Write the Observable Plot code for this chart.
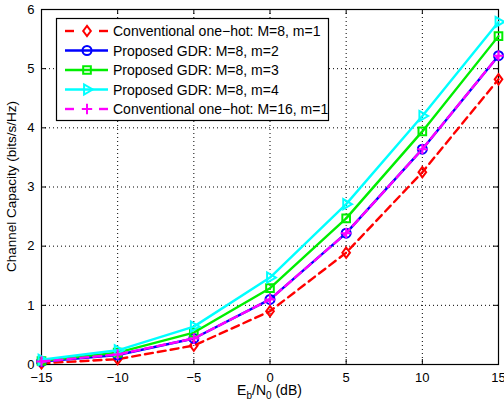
<!DOCTYPE html>
<html><head><meta charset="utf-8">
<script src="https://cdn.jsdelivr.net/npm/d3@7"></script>
<script src="https://cdn.jsdelivr.net/npm/@observablehq/plot@0.6"></script>
<style>
body{margin:0;background:#fff}
svg{font-family:"Liberation Sans",Arial,Helvetica,sans-serif}
</style>
</head><body><div id="chart"></div>
<script>
// ---- data ----
const snr = [-15, -10, -5, 0, 5, 10, 15];
const seriesNames = [
  "Conventional one\u2212hot: M=8, m=1",
  "Proposed GDR: M=8, m=2",
  "Proposed GDR: M=8, m=3",
  "Proposed GDR: M=8, m=4",
  "Conventional one\u2212hot: M=16, m=1"
];
const capOneHot8  = [0.02, 0.09, 0.32, 0.90, 1.89, 3.25, 4.82];
const capGDR2     = [0.05, 0.16, 0.44, 1.10, 2.22, 3.64, 5.22];
const capGDR3     = [0.06, 0.20, 0.54, 1.29, 2.47, 3.94, 5.55];
const capGDR4     = [0.08, 0.24, 0.64, 1.47, 2.71, 4.20, 5.79];
const capOneHot16 = [0.05, 0.17, 0.44, 1.10, 2.22, 3.64, 5.22];
const xTicks = [-15, -10, -5, 0, 5, 10, 15];
const yTicks = [0, 1, 2, 3, 4, 5, 6];

// ---- styles ----
const triRight = {draw(ctx, size) {
  const R = Math.sqrt(size / Math.PI) * 1.3;
  ctx.moveTo(R, 0);
  ctx.lineTo(-R / 2, R * Math.sqrt(3) / 2);
  ctx.lineTo(-R / 2, -R * Math.sqrt(3) / 2);
  ctx.closePath();
}};
const diamondSym = {draw(ctx, size) {
  const r = Math.sqrt(size / Math.PI);
  const h = r * 1.15, w = r * 0.85;
  ctx.moveTo(0, -h); ctx.lineTo(w, 0); ctx.lineTo(0, h); ctx.lineTo(-w, 0); ctx.closePath();
}};
const squareSym = {draw(ctx, size) {
  const s = Math.sqrt(size / Math.PI) * 0.85;
  ctx.rect(-s, -s, 2 * s, 2 * s);
}};
const circleSym = {draw(ctx, size) {
  const r = Math.sqrt(size / Math.PI);
  ctx.moveTo(r, 0); ctx.arc(0, 0, r, 0, 2 * Math.PI);
}};
const plusSym = {draw(ctx, size) {
  const r = Math.sqrt(size / Math.PI) * 1.15;
  ctx.moveTo(-r, 0); ctx.lineTo(r, 0); ctx.moveTo(0, -r); ctx.lineTo(0, r);
}};

const seriesValues = [capOneHot8, capGDR2, capGDR3, capGDR4, capOneHot16];
const styles = [
  {color: "#ff0000", dash: "8,5", symbol: diamondSym},
  {color: "#0000ff", dash: null, symbol: circleSym},
  {color: "#00ee00", dash: null, symbol: squareSym},
  {color: "#00ffff", dash: null, symbol: triRight},
  {color: "#ff00ff", dash: "8,5", symbol: plusSym}
];
const series = seriesNames.map((name, i) => ({
  name, style: styles[i],
  rows: snr.map((x, j) => ({x, y: seriesValues[i][j], name}))
}));

const W = 504, H = 405, mL = 41, mR = 6, mT = 9, mB = 41;
const plotH = H - mT - mB;
const fmt = d => d < 0 ? "\u2212" + (-d) : String(d);

const marks = [
  Plot.ruleX(xTicks.slice(1, -1), {stroke: "#000", strokeDasharray: "1,3", strokeWidth: 1}),
  Plot.ruleY(yTicks.slice(1, -1), {stroke: "#000", strokeDasharray: "1,3", strokeWidth: 1}),
  // inward ticks
  Plot.ruleX(xTicks, {stroke: "#000", insetTop: plotH - 5}),
  Plot.ruleX(xTicks, {stroke: "#000", insetBottom: plotH - 5}),
  Plot.ruleY(yTicks, {stroke: "#000", insetRight: (W - mL - mR) - 5}),
  Plot.ruleY(yTicks, {stroke: "#000", insetLeft: (W - mL - mR) - 5}),
  Plot.frame({stroke: "#000", strokeWidth: 1.2})
];
for (const s of series) {
  marks.push(Plot.line(s.rows, {x: "x", y: "y", stroke: s.style.color, strokeWidth: 2.4,
    strokeDasharray: s.style.dash || undefined}));
  marks.push(Plot.dot(s.rows, {x: "x", y: "y", symbol: s.style.symbol, r: 4.5,
    stroke: s.style.color, fill: "none", strokeWidth: 2}));
}

const plot = Plot.plot({
  width: W, height: H,
  marginLeft: mL, marginRight: mR, marginTop: mT, marginBottom: mB,
  style: {fontSize: "13px", fontFamily: '"Liberation Sans",Arial,sans-serif', background: "#fff", overflow: "visible"},
  x: {domain: [-15, 15], ticks: xTicks, tickSize: 0, tickPadding: 8, tickFormat: fmt, label: null},
  y: {domain: [0, 6], ticks: yTicks, tickSize: 0, tickPadding: 7, tickFormat: fmt, label: null},
  marks
});
document.getElementById("chart").append(plot);

// ---- axis labels & legend ----
const svg = d3.select(plot);
const xs = plot.scale("x"), ys = plot.scale("y");
const xMid = (xs.apply(-15) + xs.apply(15)) / 2;
const yMid = (ys.apply(0) + ys.apply(6)) / 2;

const xl = svg.append("text").attr("x", xMid).attr("y", H - 10)
  .attr("text-anchor", "middle").attr("font-size", 14).attr("fill", "#000");
xl.append("tspan").text("E");
xl.append("tspan").attr("font-size", 10).attr("dy", 4).text("b");
xl.append("tspan").attr("dy", -4).text("/N");
xl.append("tspan").attr("font-size", 10).attr("dy", 4).text("0");
xl.append("tspan").attr("dy", -4).text(" (dB)");

svg.append("text").attr("transform", `translate(16,${yMid}) rotate(-90)`)
  .attr("text-anchor", "middle").attr("font-size", 13.5).attr("fill", "#000")
  .text("Channel Capacity (bits/s/Hz)");

const lg = svg.append("g").attr("text-anchor", "start");
const bx = 56.5, by = 18.5, bw = 272, bh = 102;
lg.append("rect").attr("x", bx).attr("y", by).attr("width", bw).attr("height", bh)
  .attr("fill", "#fff").attr("stroke", "#000").attr("stroke-width", 1.2);
series.forEach((s, i) => {
  const cy = 31 + i * 19.5;
  if (s.style.dash) {
    lg.append("line").attr("x1", 65).attr("x2", 74).attr("y1", cy).attr("y2", cy)
      .attr("stroke", s.style.color).attr("stroke-width", 2.4);
    lg.append("line").attr("x1", 99).attr("x2", 108).attr("y1", cy).attr("y2", cy)
      .attr("stroke", s.style.color).attr("stroke-width", 2.4);
  } else {
    lg.append("line").attr("x1", 65).attr("x2", 108).attr("y1", cy).attr("y2", cy)
      .attr("stroke", s.style.color).attr("stroke-width", 2.4);
  }
  lg.append("path").attr("transform", `translate(87,${cy})`)
    .attr("d", d3.symbol(s.style.symbol, 4.5 * 4.5 * Math.PI)())
    .attr("fill", "none").attr("stroke", s.style.color).attr("stroke-width", 2);
  lg.append("text").attr("x", 113).attr("y", cy).attr("dy", "0.36em")
    .attr("text-anchor", "start")
    .attr("font-size", 14).attr("fill", "#000").text(s.name);
});
</script>
</body></html>
